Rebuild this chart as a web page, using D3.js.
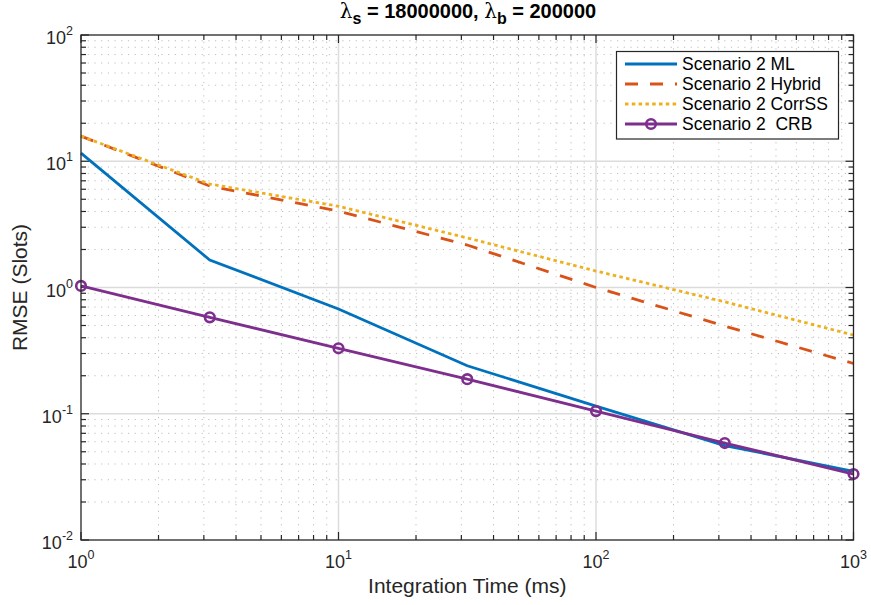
<!DOCTYPE html>
<html><head><meta charset="utf-8">
<script src="https://cdn.jsdelivr.net/npm/d3@7"></script>
<style>body{margin:0;background:#fff}svg{font-family:"Liberation Sans",Arial,sans-serif}</style>
</head><body>
<svg id="c" width="871" height="605"></svg>
<script>
const xVals = [1, 3.1623, 10, 31.623, 100, 316.23, 1000];
const mlVals = [11.6, 1.65, 0.676, 0.24, 0.115, 0.056, 0.035];
const hybridVals = [15.8, 6.37, 4.03, 2.17, 1.0, 0.495, 0.25];
const corrVals = [15.8, 6.6, 4.4, 2.47, 1.35, 0.77, 0.42];
const crbVals = [1.03, 0.58, 0.33, 0.188, 0.105, 0.0586, 0.0333];
const seriesNames = ["Scenario 2 ML", "Scenario 2 Hybrid", "Scenario 2 CorrSS", "Scenario 2  CRB"];
const xDecades = [0, 1, 2, 3];
const yDecades = [-2, -1, 0, 1, 2];

const svg = d3.select("#c");
const L = 81, T = 35, R = 853.5, B = 540;
const x = d3.scaleLog().domain([1, 1000]).range([L, R]);
const y = d3.scaleLog().domain([0.01, 100]).range([B, T]);

const g = svg.append("g");
const xMinor = [], yMinor = [];
for (let d = 0; d < 3; d++) for (let m = 2; m <= 9; m++) xMinor.push(m * Math.pow(10, d));
for (let d = -2; d < 2; d++) for (let m = 2; m <= 9; m++) yMinor.push(m * Math.pow(10, d));
g.selectAll(".xm").data(xMinor).enter().append("line")
  .attr("x1", d => x(d)).attr("x2", d => x(d)).attr("y1", T).attr("y2", B)
  .attr("stroke", "#bdbdbd").attr("stroke-width", 1).attr("stroke-dasharray", "1.2,5.5");
g.selectAll(".ym").data(yMinor).enter().append("line")
  .attr("y1", d => y(d)).attr("y2", d => y(d)).attr("x1", L).attr("x2", R)
  .attr("stroke", "#bdbdbd").attr("stroke-width", 1).attr("stroke-dasharray", "1.2,5.5");
g.selectAll(".xM").data(xDecades.slice(1, -1)).enter().append("line")
  .attr("x1", d => x(Math.pow(10, d))).attr("x2", d => x(Math.pow(10, d))).attr("y1", T).attr("y2", B)
  .attr("stroke", "#dcdcdc").attr("stroke-width", 1.5);
g.selectAll(".yM").data(yDecades.slice(1, -1)).enter().append("line")
  .attr("y1", d => y(Math.pow(10, d))).attr("y2", d => y(Math.pow(10, d))).attr("x1", L).attr("x2", R)
  .attr("stroke", "#dcdcdc").attr("stroke-width", 1.5);

const tc = "#262626";
const xMaj = xDecades.map(d => Math.pow(10, d)), yMaj = yDecades.map(d => Math.pow(10, d));
function tick(arr, horiz, len) {
  arr.forEach(v => {
    if (horiz) {
      const px = x(v);
      g.append("line").attr("x1", px).attr("x2", px).attr("y1", B).attr("y2", B - len).attr("stroke", tc).attr("stroke-width", 1.2);
      g.append("line").attr("x1", px).attr("x2", px).attr("y1", T).attr("y2", T + len).attr("stroke", tc).attr("stroke-width", 1.2);
    } else {
      const py = y(v);
      g.append("line").attr("y1", py).attr("y2", py).attr("x1", L).attr("x2", L + len).attr("stroke", tc).attr("stroke-width", 1.2);
      g.append("line").attr("y1", py).attr("y2", py).attr("x1", R).attr("x2", R - len).attr("stroke", tc).attr("stroke-width", 1.2);
    }
  });
}
tick(xMinor, true, 5); tick(xMaj, true, 8);
tick(yMinor, false, 5); tick(yMaj, false, 8);

const series = [
  {v: mlVals, c: "#0072BD", dash: null},
  {v: hybridVals, c: "#D95319", dash: "13,12"},
  {v: corrVals, c: "#EDB120", dash: "3.5,3.3"},
  {v: crbVals, c: "#7E2F8E", dash: null, marker: true}
];
const line = d3.line().x(d => x(d[0])).y(d => y(d[1]));
series.forEach(s => {
  const pts = xVals.map((xv, i) => [xv, s.v[i]]);
  svg.append("path").attr("d", line(pts)).attr("fill", "none").attr("stroke", s.c)
    .attr("stroke-width", 2.8).attr("stroke-dasharray", s.dash);
  if (s.marker) {
    svg.selectAll(null).data(pts).enter().append("circle")
      .attr("cx", d => x(d[0])).attr("cy", d => y(d[1])).attr("r", 4.8)
      .attr("fill", "none").attr("stroke", s.c).attr("stroke-width", 2.6);
  }
});

svg.append("rect").attr("x", L).attr("y", T).attr("width", R - L).attr("height", B - T)
  .attr("fill", "none").attr("stroke", tc).attr("stroke-width", 1.3);

const lc = "#262626";
xDecades.forEach(d => {
  const t = svg.append("text").attr("x", x(Math.pow(10, d))).attr("y", 568).attr("text-anchor", "middle")
    .attr("fill", lc).attr("font-size", 18);
  t.append("tspan").text("10");
  t.append("tspan").text(d).attr("font-size", 12.5).attr("dy", -9);
});
yDecades.forEach(d => {
  const t = svg.append("text").attr("x", 73).attr("y", y(Math.pow(10, d)) + 9).attr("text-anchor", "end")
    .attr("fill", lc).attr("font-size", 18);
  t.append("tspan").text("10");
  t.append("tspan").text(d).attr("font-size", 12.5).attr("dy", -9);
});

svg.append("text").attr("x", (L + R) / 2).attr("y", 593).attr("text-anchor", "middle")
  .attr("fill", lc).attr("font-size", 21).text("Integration Time (ms)");
svg.append("text").attr("transform", `translate(27,${(T + B) / 2}) rotate(-90)`).attr("text-anchor", "middle")
  .attr("fill", lc).attr("font-size", 21).text("RMSE (Slots)");

const tt = svg.append("text").attr("x", 468).attr("y", 18).attr("text-anchor", "middle")
  .attr("font-size", 20).attr("font-weight", "bold").attr("fill", "#000");
tt.append("tspan").text("λ").attr("font-weight", "normal").attr("font-family", "DejaVu Serif, serif");
tt.append("tspan").text("s").attr("dy", 6).attr("font-size", 16);
tt.append("tspan").text(" = 18000000, ").attr("dy", -6);
tt.append("tspan").text("λ").attr("font-weight", "normal").attr("font-family", "DejaVu Serif, serif");
tt.append("tspan").text("b").attr("dy", 6).attr("font-size", 16);
tt.append("tspan").text(" = 200000").attr("dy", -6);

const lg = svg.append("g");
lg.append("rect").attr("x", 616.5).attr("y", 51.5).attr("width", 222).attr("height", 87.5)
  .attr("fill", "#fff").attr("stroke", tc).attr("stroke-width", 1.2);
const legY = [64, 84, 104, 124];
series.forEach((s, i) => {
  const yy = legY[i];
  lg.append("line").attr("x1", 625).attr("x2", 677).attr("y1", yy).attr("y2", yy)
    .attr("stroke", s.c).attr("stroke-width", 2.8).attr("stroke-dasharray", s.dash);
  if (s.marker) lg.append("circle").attr("cx", 651).attr("cy", yy).attr("r", 4.8)
    .attr("fill", "none").attr("stroke", s.c).attr("stroke-width", 2.6);
  lg.append("text").attr("x", 682).attr("y", yy + 6).attr("font-size", 17.5).attr("fill", "#000")
    .attr("xml:space", "preserve").style("white-space", "pre").text(seriesNames[i]);
});
</script>
</body></html>
